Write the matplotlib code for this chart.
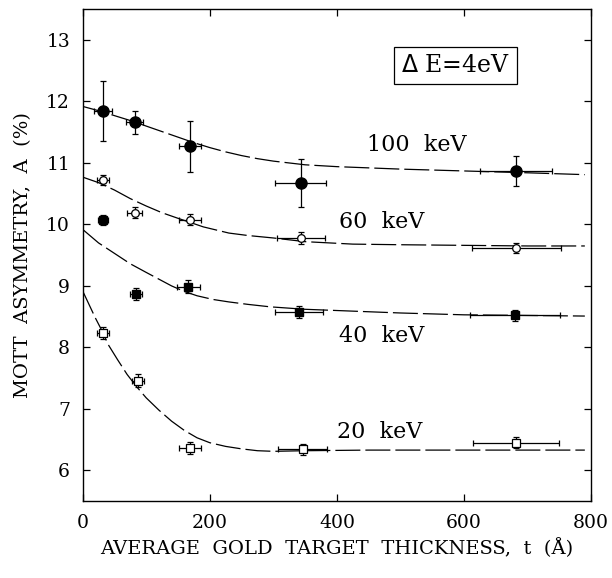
import numpy as np
import matplotlib.pyplot as plt

plt.rcParams['font.family'] = ['DejaVu Serif']

# measured points (thickness in Angstrom, asymmetry in %)
t_100 = [32, 82, 169, 343, 682]
a_100 = [11.84, 11.66, 11.27, 10.67, 10.87]
dt_100 = [14, 13, 18, 40, 57]
da_100 = [0.49, 0.19, 0.41, 0.39, 0.25]

t_60 = [32, 82, 169, 343, 682]
a_60 = [10.72, 10.19, 10.08, 9.78, 9.62]
dt_60 = [10, 12, 18, 38, 70]
da_60 = [0.08, 0.09, 0.09, 0.09, 0.08]

t_40 = [32, 84, 166, 340, 680]
a_40 = [10.07, 8.87, 8.99, 8.58, 8.52]
dt_40 = [8, 10, 18, 38, 71]
da_40 = [0.08, 0.10, 0.10, 0.10, 0.09]

t_20 = [32, 87, 169, 346, 682]
a_20 = [8.23, 7.46, 6.36, 6.34, 6.45]
dt_20 = [10, 10, 18, 38, 68]
da_20 = [0.10, 0.10, 0.10, 0.09, 0.09]

# fitted curves
ct_100 = [0, 25, 50, 75, 100, 125, 150, 175, 200, 225, 250, 275, 300, 350, 400, 500, 600, 700, 790]
ca_100 = [11.92, 11.85, 11.77, 11.69, 11.60, 11.51, 11.42, 11.33, 11.25, 11.18, 11.12, 11.07, 11.03,
          10.97, 10.94, 10.90, 10.87, 10.84, 10.81]

ct_60 = [0, 25, 50, 75, 100, 125, 150, 170, 190, 210, 230, 260, 300, 350, 425, 500, 600, 700, 790]
ca_60 = [10.77, 10.68, 10.56, 10.42, 10.30, 10.19, 10.10, 10.03, 9.96, 9.91, 9.86, 9.82, 9.78, 9.72,
         9.68, 9.67, 9.66, 9.65, 9.65]

ct_40 = [0, 25, 50, 75, 100, 120, 140, 160, 180, 205, 230, 260, 295, 350, 400, 500, 600, 700, 790]
ca_40 = [9.92, 9.70, 9.53, 9.36, 9.22, 9.11, 9.00, 8.91, 8.84, 8.78, 8.74, 8.70, 8.66, 8.62, 8.60,
         8.56, 8.53, 8.52, 8.51]

ct_20 = [0, 10, 20, 30, 40, 55, 70, 85, 100, 120, 140, 160, 180, 200, 225, 250, 275, 300, 350, 450, 600, 790]
ca_20 = [8.92, 8.70, 8.48, 8.28, 8.05, 7.80, 7.56, 7.36, 7.18, 6.98, 6.80, 6.65, 6.53, 6.45, 6.39,
         6.35, 6.32, 6.31, 6.32, 6.33, 6.33, 6.33]

fig = plt.figure(figsize=(6.12, 5.78), dpi=100)
ax = fig.add_axes([0.135, 0.133, 0.831, 0.851])

dash = (0, (20, 4))
for ct, ca in [(ct_100, ca_100), (ct_60, ca_60), (ct_40, ca_40), (ct_20, ca_20)]:
    ax.plot(ct, ca, color='black', lw=0.9, linestyle=dash)

eb = dict(color='black', ecolor='black', elinewidth=0.9, capsize=2.5, capthick=0.9, linestyle='none')
ax.errorbar(t_100, a_100, xerr=dt_100, yerr=da_100, fmt='o', ms=8, mfc='black', mec='black', **eb)
ax.errorbar(t_60, a_60, xerr=dt_60, yerr=da_60, fmt='o', ms=5.5, mfc='white', mec='black', mew=0.9, **eb)
ax.errorbar(t_40, a_40, xerr=dt_40, yerr=da_40, fmt='s', ms=6, mfc='black', mec='black', **eb)
ax.errorbar(t_20, a_20, xerr=dt_20, yerr=da_20, fmt='s', ms=5.5, mfc='white', mec='black', mew=0.9, **eb)

ax.text(448, 11.29, '100  keV', fontsize=16, va='center', ha='left')
ax.text(404, 10.04, '60  keV', fontsize=16, va='center', ha='left')
ax.text(404, 8.18, '40  keV', fontsize=16, va='center', ha='left')
ax.text(400, 6.63, '20  keV', fontsize=16, va='center', ha='left')

ax.text(586, 12.58, r'$\Delta$' + ' E=4eV', fontsize=17, va='center', ha='center',
        bbox=dict(boxstyle='square,pad=0.3', fc='white', ec='black', lw=0.9))

ax.set_xlim(0, 800)
ax.set_ylim(5.5, 13.5)
ax.set_xticks([0, 200, 400, 600, 800])
ax.set_yticks([6, 7, 8, 9, 10, 11, 12, 13])
ax.tick_params(direction='in', top=True, right=True, length=5, width=0.9, labelsize=13.5, pad=9)
for s in ax.spines.values():
    s.set_linewidth(1.0)

ax.set_xlabel('AVERAGE  GOLD  TARGET  THICKNESS,  t  (Å)', fontsize=14, labelpad=5)
ax.set_ylabel('MOTT  ASYMMETRY,  A  (%)', fontsize=14, labelpad=10)

fig.savefig('out.png', dpi=100)
